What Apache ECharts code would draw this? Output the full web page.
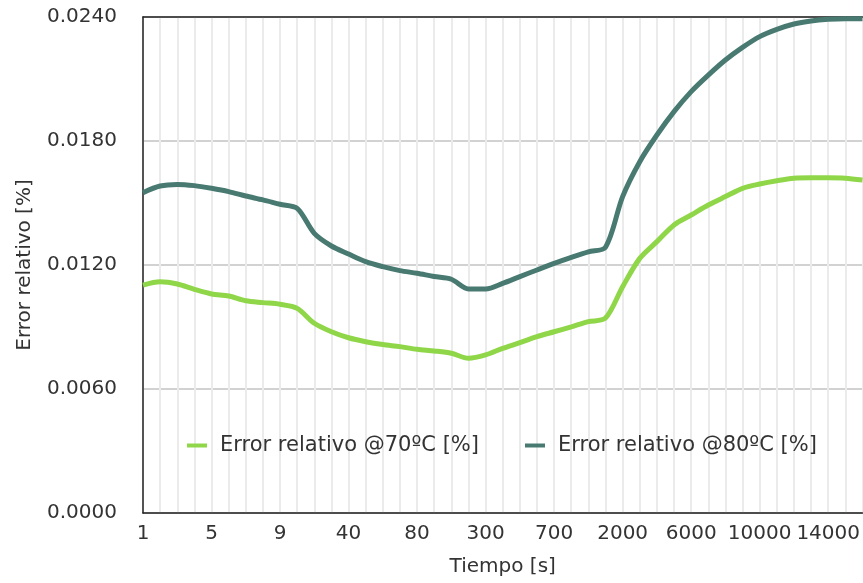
<!DOCTYPE html>
<html>
<head>
<meta charset="utf-8">
<title>Error relativo</title>
<script src="https://cdn.jsdelivr.net/npm/echarts@6/dist/echarts.min.js"></script>
<style>
  html, body { margin: 0; padding: 0; background: #fff; }
  #main { width: 863px; height: 583px; }
</style>
</head>
<body>
<div id="main"></div>
<script>
// tiempo [s]
const tiempos = [
  '1', '2', '3', '4', '5', '6', '7', '8', '9', '10',
  '20', '30', '40', '50', '60', '70', '80', '90', '100',
  '200', '300', '400', '500', '600', '700', '800', '900', '1000',
  '2000', '3000', '4000', '5000', '6000', '7000', '8000', '9000', '10000',
  '11000', '12000', '13000', '14000', '15000', '16000'
];

// error relativo @70ºC [%]
const error70 = [
  0.01103, 0.01119, 0.01108, 0.01082, 0.01060, 0.01050, 0.01027, 0.01018, 0.01010, 0.00990,
  0.00918, 0.00877, 0.00848, 0.00829, 0.00815, 0.00805, 0.00792, 0.00784, 0.00773,
  0.00749, 0.00765, 0.00797, 0.00824, 0.00853, 0.00877, 0.00901, 0.00926, 0.00943,
  0.01095, 0.01232, 0.01313, 0.01394, 0.01442, 0.01490, 0.01531, 0.01571, 0.01592,
  0.01608, 0.01620, 0.01622, 0.01622, 0.01620, 0.01611
];

// error relativo @80ºC [%]
const error80 = [
  0.01550, 0.01582, 0.01590, 0.01584, 0.01571, 0.01555, 0.01534, 0.01515, 0.01494, 0.01474,
  0.01353, 0.01292, 0.01253, 0.01216, 0.01192, 0.01173, 0.01160, 0.01144, 0.01131,
  0.01084, 0.01084, 0.01111, 0.01144, 0.01176, 0.01208, 0.01237, 0.01264, 0.01286,
  0.01531, 0.01700, 0.01829, 0.01942, 0.02039, 0.02119, 0.02192, 0.02253, 0.02305,
  0.02340, 0.02366, 0.02381, 0.02389, 0.02392, 0.02392
];

const FONT = 'DejaVu Sans';
const TXT = '#333';

let chart = echarts.init(document.getElementById('main'));
chart.setOption({
  animation: false,
  textStyle: { fontFamily: FONT },
  grid: { left: 143, right: 0, top: 17, bottom: 70 },
  legend: {
    left: 182,
    top: 430,
    icon: 'rect',
    itemWidth: 20,
    itemHeight: 4,
    itemGap: 46,
    textStyle: { fontFamily: FONT, fontSize: 21, color: TXT, padding: [0, 0, 0, 8] },
    data: ['Error relativo @70ºC [%]', 'Error relativo @80ºC [%]']
  },
  xAxis: [{
    type: 'category',
    data: tiempos,
    boundaryGap: false,
    name: 'Tiempo [s]',
    nameLocation: 'middle',
    nameGap: 44,
    nameTextStyle: { fontFamily: FONT, fontSize: 20, color: TXT },
    axisLine: { lineStyle: { color: '#222', width: 1.5 } },
    axisTick: { show: false },
    axisLabel: { interval: 3, margin: 11, fontFamily: FONT, fontSize: 20, color: TXT },
    splitLine: { show: true, interval: 0, lineStyle: { color: '#ebebeb', width: 2 } }
  }, {
    type: 'category',
    data: tiempos,
    boundaryGap: false,
    position: 'top',
    axisLine: { lineStyle: { color: '#222', width: 1.5 } },
    axisTick: { show: false },
    axisLabel: { show: false },
    splitLine: { show: false }
  }],
  yAxis: {
    type: 'value',
    min: 0,
    max: 0.024,
    interval: 0.006,
    name: 'Error relativo [%]',
    nameLocation: 'middle',
    nameGap: 108,
    nameTextStyle: { fontFamily: FONT, fontSize: 20, color: TXT },
    axisLine: { show: true, lineStyle: { color: '#222', width: 1.5 } },
    axisTick: { show: false },
    axisLabel: {
      margin: 26,
      fontFamily: FONT,
      fontSize: 20,
      color: TXT,
      formatter: v => v.toFixed(4)
    },
    splitLine: { lineStyle: { color: '#d2d2d2', width: 2 } }
  },
  series: [{
    name: 'Error relativo @70ºC [%]',
    type: 'line',
    data: error70,
    showSymbol: false,
    smooth: 0.3,
    lineStyle: { color: '#8fd648', width: 5 },
    itemStyle: { color: '#8fd648' }
  }, {
    name: 'Error relativo @80ºC [%]',
    type: 'line',
    data: error80,
    showSymbol: false,
    smooth: 0.3,
    lineStyle: { color: '#487a72', width: 5 },
    itemStyle: { color: '#487a72' }
  }]
});
</script>
</body>
</html>
